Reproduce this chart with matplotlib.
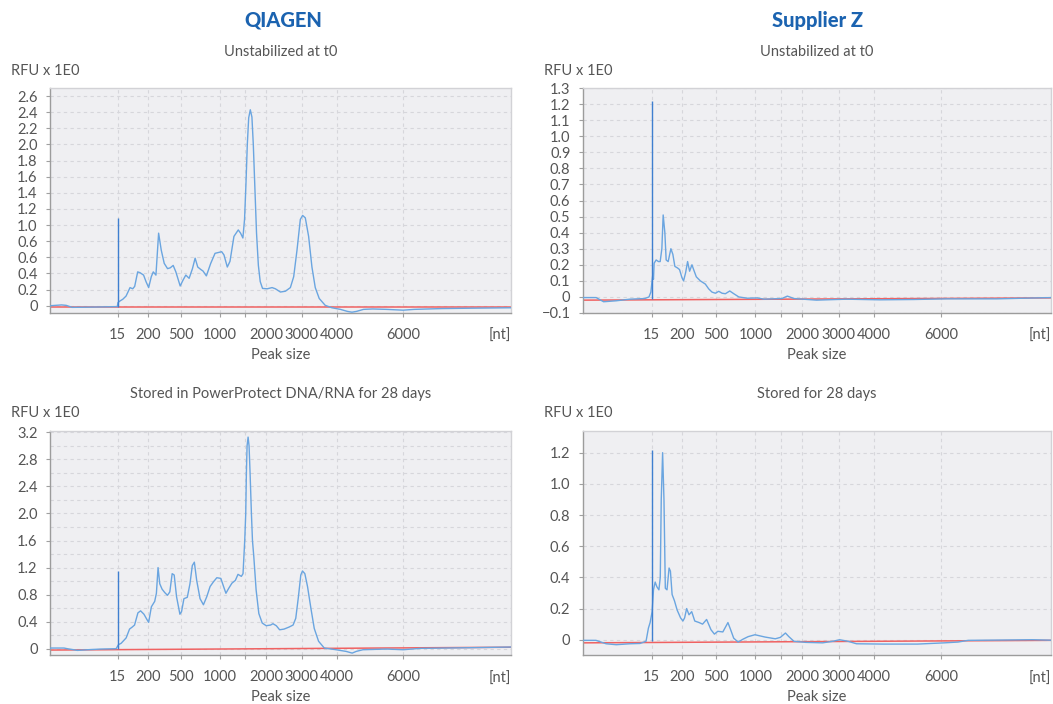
import matplotlib
matplotlib.use("Agg")
import matplotlib.pyplot as plt
import numpy as np

plt.rcParams['font.family'] = ['Lato', 'DejaVu Sans']

W, H = 1053, 704

# ---- x axis (migration position, 0-100) and size labels ----
tick_pos = [14.7, 21.25, 28.45, 36.85, 42.4, 46.9, 54.6, 62.2, 76.6]
tick_lab = ['15', '200', '500', '1000', '', '2000', '3000', '4000', '6000']

# ---- QIAGEN, unstabilized at t0 ----
qa_x = [0, 2.5, 3.5, 4.8, 8, 11, 13.5, 14.6, 14.75, 15.2, 15.78, 16.5, 17.36, 17.94, 18.37,
        19.02, 19.52, 20.3, 20.82, 21.4, 21.97, 22.4, 22.98, 23.56, 24.13, 24.78, 25.5,
        26.08, 26.72, 27.3, 28.24, 28.88, 29.46, 30.18, 30.9, 31.48, 32.05, 32.7, 33.2,
        33.92, 34.86, 35.8, 37.24, 37.74, 38.46, 39.04, 39.9, 40.84, 41.34, 41.84, 42.2,
        42.5, 42.8, 43.1, 43.45, 43.8, 44.1, 44.45, 44.8, 45.2, 45.6, 46.1, 47.1, 48.18,
        48.9, 49.98, 51.06, 52.14, 52.86, 53.58, 54.3, 54.8, 55.38, 56.1, 56.82, 57.54,
        58.4, 59.7, 61.14, 63.0, 64.5, 65.5, 66.5, 68, 70, 73, 76.6, 79, 85, 92, 100]
qa_y = [0.0, 0.01, 0.005, -0.02, -0.018, -0.015, -0.012, -0.01, 0.04, 0.06, 0.08, 0.12, 0.225,
        0.21, 0.24, 0.42, 0.41, 0.38, 0.30, 0.225, 0.36, 0.42, 0.38, 0.90, 0.69, 0.525, 0.46,
        0.47, 0.50, 0.42, 0.245, 0.32, 0.38, 0.34, 0.46, 0.59, 0.48, 0.45, 0.43, 0.37, 0.525,
        0.65, 0.67, 0.63, 0.48, 0.55, 0.86, 0.94, 0.90, 0.84, 1.07, 1.5, 2.0, 2.33, 2.43,
        2.34, 2.0, 1.45, 0.9, 0.5, 0.3, 0.215, 0.21, 0.225, 0.21, 0.17, 0.18, 0.225, 0.36,
        0.69, 1.07, 1.12, 1.09, 0.86, 0.48, 0.225, 0.09, 0.005, -0.025, -0.045, -0.07,
        -0.08, -0.07, -0.045, -0.04, -0.045, -0.055, -0.045, -0.035, -0.03, -0.025]
qa_spike = 1.09
qa_base = [-0.012, -0.012]

# ---- Supplier Z, unstabilized at t0 ----
za_x = [0, 2.8, 4.4, 7.1, 10, 13.2, 14.1, 14.5, 14.91, 15.06, 15.2, 15.63, 16.13, 16.49,
        16.85, 17.13, 17.49, 17.77, 18.2, 18.78, 19.2, 19.63, 20.21, 20.63, 21.14, 21.49,
        21.92, 22.35, 22.78, 23.28, 23.64, 24.21, 25.07, 26.14, 26.86, 27.57, 28.29, 29.0,
        29.72, 30.43, 31.36, 32.22, 33.29, 35.08, 37.2, 38.65, 42.5, 43.66, 45.1, 49.9,
        56.3, 63.4, 70.6, 77.7, 88.4, 100]
za_y = [-0.004, -0.004, -0.03, -0.024, -0.014, -0.01, 0.0, 0.03, 0.14, 0.11, 0.21, 0.23,
        0.22, 0.22, 0.30, 0.51, 0.40, 0.23, 0.22, 0.30, 0.265, 0.19, 0.18, 0.17, 0.12, 0.10,
        0.15, 0.22, 0.16, 0.20, 0.17, 0.125, 0.10, 0.08, 0.05, 0.03, 0.023, 0.035, 0.023,
        0.02, 0.037, 0.02, 0.0, -0.008, -0.006, -0.014, -0.01, 0.005, -0.01, -0.02, -0.014,
        -0.018, -0.016, -0.012, -0.012, -0.004]
za_spike = 1.22
za_base = [-0.02, -0.006]

# ---- QIAGEN, stored in PowerProtect DNA/RNA for 28 days ----
qb_x = [0, 3.04, 3.77, 5.96, 8.14, 11.06, 14.34, 14.85, 15.43, 16.52, 17.25, 17.83, 18.34,
        19.07, 19.65, 20.38, 21.04, 21.4, 21.99, 22.71, 23.08, 23.44, 23.81, 24.32, 24.9,
        25.48, 25.99, 26.5, 26.94, 27.45, 28.18, 28.54, 29.05, 29.78, 30.36, 30.87, 31.31,
        31.82, 32.55, 33.28, 34.01, 34.73, 35.46, 36.19, 37.06, 37.65, 38.16, 38.74, 39.47,
        40.2, 40.78, 41.51, 41.87, 42.24, 42.46, 42.6, 42.75, 42.97, 43.18, 43.4, 43.69,
        43.92, 44.21, 44.71, 45.3, 46.03, 46.9, 47.85, 48.36, 49.09, 49.81, 50.76, 51.85,
        52.73, 53.31, 53.89, 54.4, 54.77, 55.28, 55.86, 56.59, 57.32, 58.26, 59.5, 62.05,
        64.24, 65.55, 66.42, 67.88, 72.98, 76.62, 80.3, 91.2, 100]
qb_y = [0.01, 0.01, 0.0, -0.025, -0.015, -0.005, 0.0, 0.06, 0.08, 0.16, 0.29, 0.32, 0.35,
        0.53, 0.56, 0.51, 0.43, 0.39, 0.62, 0.70, 0.82, 1.20, 0.96, 0.88, 0.83, 0.79, 0.84,
        1.11, 1.09, 0.77, 0.51, 0.55, 0.74, 0.76, 0.96, 1.23, 1.28, 1.01, 0.74, 0.65, 0.77,
        0.92, 0.99, 1.05, 1.04, 0.92, 0.82, 0.89, 0.97, 1.01, 1.10, 1.07, 1.11, 1.6, 2.0,
        2.6, 3.0, 3.13, 3.0, 2.6, 2.0, 1.6, 1.36, 0.87, 0.52, 0.38, 0.34, 0.35, 0.37, 0.34,
        0.28, 0.29, 0.32, 0.35, 0.45, 0.77, 1.09, 1.15, 1.11, 0.92, 0.60, 0.30, 0.11, 0.01,
        -0.015, -0.04, -0.065, -0.04, -0.015, -0.005, -0.015, 0.005, 0.015, 0.025]
qb_spike = 1.15
qb_base = [-0.02, 0.022]

# ---- Supplier Z, stored for 28 days ----
zb_x = [0, 2.77, 4.94, 7.11, 10.0, 12.17, 13.47, 13.98, 14.34, 14.77, 15.06, 15.42, 15.78,
        16.22, 16.51, 16.72, 17.01, 17.3, 17.59, 17.95, 18.39, 18.68, 19.04, 19.54, 20.12,
        20.85, 21.35, 21.71, 22.15, 22.65, 23.23, 23.88, 24.82, 25.55, 26.41, 27.35, 28.08,
        28.8, 29.88, 30.97, 31.55, 32.2, 33.14, 34.22, 35.31, 36.75, 38.92, 41.09, 42.17,
        43.26, 43.98, 45.07, 47.6, 51.21, 53.38, 54.83, 56.63, 58.44, 64.23, 71.46, 77.24,
        80.13, 82.3, 89.53, 96.04, 100]
zb_y = [-0.004, -0.004, -0.026, -0.032, -0.026, -0.024, -0.01, 0.075, 0.11, 0.18, 0.32,
        0.37, 0.34, 0.32, 0.40, 0.9, 1.20, 0.9, 0.33, 0.32, 0.46, 0.44, 0.29, 0.25, 0.19,
        0.14, 0.12, 0.14, 0.20, 0.16, 0.18, 0.12, 0.11, 0.10, 0.13, 0.064, 0.036, 0.054,
        0.05, 0.11, 0.064, 0.01, -0.015, 0.004, 0.02, 0.032, 0.017, 0.006, 0.015, 0.043,
        0.02, -0.01, -0.017, -0.02, -0.01, 0.0, -0.01, -0.026, -0.028, -0.028, -0.02,
        -0.015, -0.004, -0.002, 0.0, -0.003]
zb_spike = 1.22
zb_base = [-0.02, -0.004]

panels = [
    dict(x=qa_x, y=qa_y, spike=qa_spike, base=qa_base, box=(50, 88, 511, 313),
         ylim=(-0.09, 2.70), yticks=[0, .2, .4, .6, .8, 1.0, 1.2, 1.4, 1.6, 1.8, 2.0, 2.2, 2.4, 2.6],
         ylabels=['0', '0.2', '0.4', '0.6', '0.6', '1.0', '1.2', '1.4', '1.6', '1.8', '2.0', '2.2', '2.4', '2.6'],
         ygrid=None, sub='Unstabilized at t0', suby=52, rfuy=71, xly=336, ply=355),
    dict(x=za_x, y=za_y, spike=za_spike, base=za_base, box=(583, 88, 1051, 313),
         ylim=(-0.1, 1.3), yticks=[-0.1, 0, .1, .2, .3, .4, .5, .6, .7, .8, .9, 1.0, 1.1, 1.2, 1.3],
         ylabels=['\u22120.1', '0', '0.1', '0.2', '0.3', '0.4', '0.5', '0.6', '0.7', '0.8', '0.9', '1.0', '1.1', '1.2', '1.3'],
         ygrid=None, sub='Unstabilized at t0', suby=52, rfuy=71, xly=336, ply=355),
    dict(x=qb_x, y=qb_y, spike=qb_spike, base=qb_base, box=(50, 431, 511, 655),
         ylim=(-0.093, 3.22), yticks=[0, .4, .8, 1.2, 1.6, 2.0, 2.4, 2.8, 3.2],
         ylabels=['0', '0.4', '0.8', '1.2', '1.6', '2.0', '2.4', '2.8', '3.2'],
         ygrid=[0.2, 0.6, 1.0, 1.4, 1.8, 2.2, 2.6, 3.0],
         sub='Stored in PowerProtect DNA/RNA for 28 days', suby=394, rfuy=413, xly=679, ply=697),
    dict(x=zb_x, y=zb_y, spike=zb_spike, base=zb_base, box=(583, 431, 1051, 655),
         ylim=(-0.098, 1.339), yticks=[0, .2, .4, .6, .8, 1.0, 1.2],
         ylabels=['0', '0.2', '0.4', '0.6', '0.8', '1.0', '1.2'],
         ygrid=None, sub='Stored for 28 days', suby=394, rfuy=413, xly=679, ply=697),
]

BG = '#efeff2'
GRID = '#d6d6db'
TXT = '#555555'
CURVE = '#6aa5e0'
SPIKE = '#3f7fd0'
RED = '#f06262'

fig = plt.figure(figsize=(W / 100, H / 100), dpi=100)
fig.patch.set_facecolor('white')

for p in panels:
    x0, y0, x1, y1 = p['box']
    ax = fig.add_axes([x0 / W, 1 - y1 / H, (x1 - x0) / W, (y1 - y0) / H])
    ax.set_facecolor(BG)
    ax.set_xlim(0, 100)
    ax.set_ylim(*p['ylim'])
    # grid
    for t in tick_pos:
        ax.axvline(t, color=GRID, lw=0.8, ls=(0, (3, 3)), zorder=0)
    for t in p['yticks']:
        ax.axhline(t, color=GRID, lw=0.8, ls=(0, (3, 3)), zorder=0)
    if p['ygrid']:
        for t in p['ygrid']:
            ax.axhline(t, color=GRID, lw=0.8, ls=(0, (3, 3)), zorder=0)
    # baseline and curve
    ax.plot([0, 100], p['base'], color=RED, lw=1.1, zorder=2)
    ax.plot(p['x'], p['y'], color=CURVE, lw=1.0, zorder=3,
            solid_joinstyle='round', solid_capstyle='round')
    ax.vlines(tick_pos[0], -0.01, p['spike'], color=SPIKE, lw=1.0, zorder=4)
    # ticks
    ax.set_xticks(tick_pos)
    ax.set_xticklabels(tick_lab)
    ax.set_yticks(p['yticks'])
    ax.set_yticklabels(p['ylabels'])
    ax.tick_params(axis='both', colors='#a0a0a0', labelcolor=TXT, labelsize=10.5,
                   length=3, width=0.8, direction='out')
    ax.tick_params(axis='x', pad=8)
    ax.tick_params(axis='y', pad=6)
    for s in ['left', 'bottom']:
        ax.spines[s].set_color('#9c9c9c')
        ax.spines[s].set_linewidth(1.0)
    for s in ['top', 'right']:
        ax.spines[s].set_color('#d2d2d6')
        ax.spines[s].set_linewidth(1.0)
    cx = (x0 + x1) / 2
    fig.text(cx / W, 1 - p['suby'] / H, p['sub'], ha='center', va='center', fontsize=10.5, color=TXT)
    fig.text((x0 - 39) / W, 1 - p['rfuy'] / H, 'RFU x 1E0', ha='left', va='center', fontsize=10.5, color=TXT)
    fig.text(x1 / W, 1 - p['xly'] / H, '[nt]', ha='right', va='center', fontsize=10.5, color=TXT)
    fig.text(cx / W, 1 - p['ply'] / H, 'Peak size', ha='center', va='center', fontsize=10.5, color=TXT)

fig.text(283 / W, 1 - 20 / H, 'QIAGEN', ha='center', va='center', fontsize=14.5,
         fontweight='black', color='#1b63b0')
fig.text(818 / W, 1 - 20 / H, 'Supplier Z', ha='center', va='center', fontsize=14.5,
         fontweight='black', color='#1b63b0')

fig.savefig('out.png', dpi=100, facecolor='white')
